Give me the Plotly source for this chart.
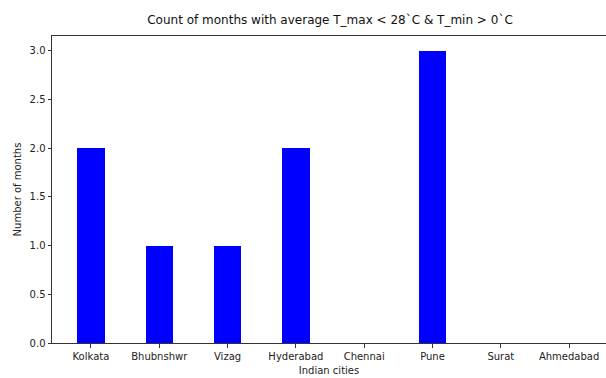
import plotly.graph_objects as go

cities = ["Kolkata", "Bhubnshwr", "Vizag", "Hyderabad", "Chennai", "Pune", "Surat", "Ahmedabad"]
months = [2, 1, 1, 2, 0, 3, 0, 0]
ytick_vals = [0.0, 0.5, 1.0, 1.5, 2.0, 2.5, 3.0]

title_text = "Count of months with average T_max < 28`C & T_min > 0`C"
x_label = "Indian cities"
y_label = "Number of months"

fig = go.Figure()
fig.add_trace(go.Bar(
    x=list(range(len(cities))),
    y=months,
    width=0.4,
    marker=dict(color="#0000ff", line=dict(width=0)),
))

font_family = "DejaVu Sans"
fig.update_layout(
    width=606,
    height=378,
    margin=dict(l=52, r=0, t=36, b=35, autoexpand=False),
    paper_bgcolor="white",
    plot_bgcolor="white",
    showlegend=False,
    font=dict(family=font_family, size=10, color="#222222"),
    title=dict(
        text=title_text,
        x=(52 + 608) / 2 / 606,
        xanchor="center",
        y=1 - 20 / 378,
        yanchor="middle",
        font=dict(family=font_family, size=12, color="#111111"),
    ),
    bargap=0,
)
fig.update_xaxes(
    range=[-0.57, 7.54],
    tickmode="array",
    tickvals=list(range(len(cities))),
    ticktext=cities,
    ticks="outside",
    ticklen=3.5,
    tickcolor="#333333",
    showline=True,
    linecolor="#333333",
    linewidth=1,
    mirror=True,
    showgrid=False,
    zeroline=False,
    automargin=False,
    tickfont=dict(size=10),
    title=dict(text=x_label, standoff=6, font=dict(size=10)),
)
fig.update_yaxes(
    range=[0, 3.15],
    tickmode="array",
    tickvals=ytick_vals,
    tickformat=".1f",
    ticks="outside",
    ticklen=3.5,
    tickcolor="#333333",
    showline=True,
    linecolor="#333333",
    linewidth=1,
    showgrid=False,
    zeroline=False,
    automargin=False,
    tickfont=dict(size=10),
    title=dict(text=y_label, standoff=6, font=dict(size=10)),
)

fig.write_html("out.html", config={"displayModeBar": False},
               post_script="document.body.style.margin='0';")
